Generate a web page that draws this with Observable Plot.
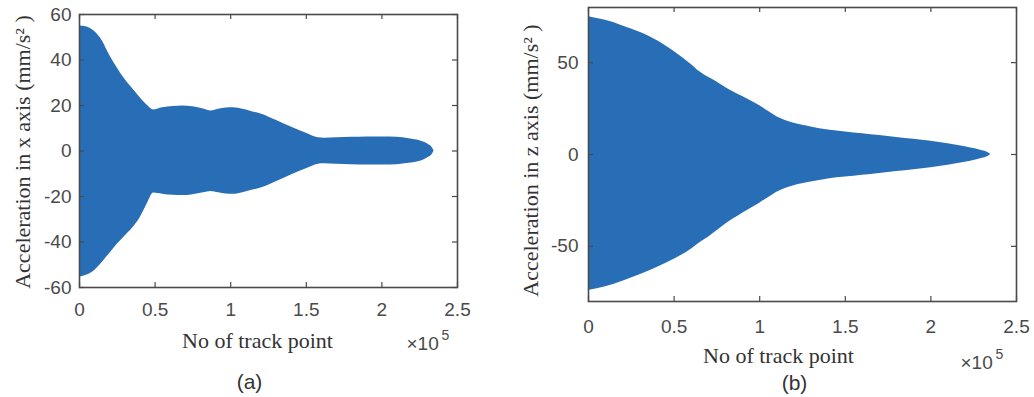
<!DOCTYPE html>
<html><head><meta charset="utf-8">
<script src="https://cdn.jsdelivr.net/npm/d3@7"></script>
<script src="https://cdn.jsdelivr.net/npm/@observablehq/plot@0.6"></script>
<style>
body{margin:0;background:#fff;}
#wrap{position:relative;width:1034px;height:397px;overflow:hidden;background:#fff;}
#a,#b{position:absolute;top:0;}
#a{left:0;} #b{left:500px;}
</style></head><body><div id="wrap"><div id="a"></div><div id="b"></div></div>
<script>
// ---- data (x in units of 1e5 track points) ----
const xTicks = [0, 0.5, 1, 1.5, 2, 2.5];
const xTickLabels = ["0", "0.5", "1", "1.5", "2", "2.5"];
const yTicksA = [-60, -40, -20, 0, 20, 40, 60];
const yTicksB = [-50, 0, 50];
const xLabel = "No of track point";
const yLabelA = "Acceleration in x axis (mm/s\u00B2 )";
const yLabelB = "Acceleration in z axis (mm/s\u00B2 )";
const captionA = "(a)";
const captionB = "(b)";
const scaleText = "\u00D710";
const scaleExp = "5";

const trackA = [0,0.05,0.1,0.15,0.2,0.25,0.3,0.35,0.4,0.45,0.49,0.55,0.62,0.68,0.75,0.82,0.87,0.92,0.97,1.02,1.08,1.14,1.2,1.3,1.4,1.5,1.58,1.62,1.7,1.8,1.9,2.0,2.1,2.18,2.24,2.28,2.31,2.33,2.345];
const upperA = [55,54.5,52.5,48.5,42,36.5,31.5,27.5,23.5,20,18,19,19.6,19.8,19.4,18.5,17.6,18.3,18.9,19,18.3,17.3,16.3,13.5,10.5,7.8,5.8,5.6,5.8,6.0,6.2,6.2,6.0,5.4,4.7,3.8,2.8,1.8,0];
const lowerA = [-55.5,-54.5,-52.5,-49,-45,-41,-37.5,-34,-29.5,-23,-18.5,-19,-19.5,-19.6,-19.2,-18.4,-17.8,-18.4,-18.9,-19,-18.3,-17.3,-16.3,-13.5,-10.5,-7.8,-5.8,-5.6,-5.8,-6.0,-6.2,-6.2,-6.0,-5.4,-4.7,-3.8,-2.8,-1.8,0];

const trackB = [0,0.1,0.2,0.3,0.4,0.5,0.6,0.65,0.7,0.75,0.8,0.9,1.0,1.05,1.1,1.15,1.2,1.3,1.4,1.5,1.6,1.7,1.8,1.9,2.0,2.1,2.2,2.25,2.3,2.33,2.35];
const upperB = [75,73,70,66.5,62,56,49,45,42,39.5,36.5,31.5,26.5,23.5,20.5,18.5,17,15,13.3,12.3,11.3,10.3,9.3,8.3,7.2,5.8,4.2,3.2,2,1.2,0];
const lowerB = [-74,-72,-69,-65.5,-61.5,-57,-51.5,-48,-45,-41.5,-38,-32,-26.5,-23.5,-20.5,-18.5,-17,-15,-13.3,-12.3,-11.3,-10.3,-9.3,-8.3,-7.2,-5.8,-4.2,-3.2,-2,-1.2,0];

// ---- styling ----
const BLUE = "#286eb6";
const FRAME = "#4a4a4a";
const TICKTXT = "#4a4a4a";
const LABELTXT = "#333333";
const SANS = "Liberation Sans, Arial, sans-serif";
const SERIF = "Liberation Serif, Times New Roman, serif";

function panel(c) {
  const rows = c.xs.map((x, i) => ({x, hi: c.up[i], lo: c.lo[i]}));
  const innerW = c.width - c.ml - c.mr;
  const innerH = c.height - c.mt - c.mb;
  const T = 5;
  const txt = {text: d => d, textAnchor: "middle", lineAnchor: "middle"};
  return Plot.plot({
    width: c.width, height: c.height,
    marginLeft: c.ml, marginRight: c.mr, marginTop: c.mt, marginBottom: c.mb,
    x: {domain: [0, 2.5]},
    y: {domain: c.yDomain},
    style: {fontFamily: SANS, fontSize: "19px", background: "white", overflow: "visible"},
    marks: [
      Plot.areaY(rows, {x: "x", y1: "lo", y2: "hi", fill: BLUE, curve: "monotone-x"}),
      Plot.frame({stroke: FRAME, strokeWidth: 1.6}),
      Plot.tickX(xTicks, {x: d => d, insetTop: innerH - T, stroke: FRAME, strokeWidth: 1.2}),
      Plot.tickX(xTicks, {x: d => d, insetBottom: innerH - T, stroke: FRAME, strokeWidth: 1.2}),
      Plot.tickY(c.yTicks, {y: d => d, insetRight: innerW - T, stroke: FRAME, strokeWidth: 1.2}),
      Plot.tickY(c.yTicks, {y: d => d, insetLeft: innerW - T, stroke: FRAME, strokeWidth: 1.2}),
      Plot.axisX(xTicks, {tickSize: 0, tickPadding: c.xPad, tickFormat: d => xTickLabels[xTicks.indexOf(d)], color: TICKTXT, label: null, fontSize: 19}),
      Plot.axisY(c.yTicks, {tickSize: 0, tickPadding: c.yPad, tickFormat: d => String(d), color: TICKTXT, label: null, fontSize: 19}),
      Plot.text([c.yLabel], {...txt, frameAnchor: "left", rotate: -90, dx: c.yLabDx, dy: c.yLabDy, fontFamily: SERIF, fontSize: 22, fill: LABELTXT}),
      Plot.text([xLabel], {...txt, frameAnchor: "bottom", dx: c.xLabDx, dy: c.xLabDy, fontFamily: SERIF, fontSize: 22, fill: LABELTXT}),
      Plot.text([scaleText], {...txt, frameAnchor: "bottom-right", textAnchor: "start", dx: c.sDx, dy: c.sDy, fontSize: 19, fill: TICKTXT}),
      Plot.text([scaleExp], {...txt, frameAnchor: "bottom-right", textAnchor: "start", dx: c.sDx + 35, dy: c.sDy - 8, fontSize: 14, fill: TICKTXT}),
      Plot.text([c.caption], {...txt, frameAnchor: "bottom", dx: c.capDx, dy: c.capDy, fontSize: 21, fill: LABELTXT})
    ]
  });
}

document.getElementById("a").append(panel({
  width: 500, height: 397, ml: 79, mr: 43, mt: 14, mb: 110,
  yDomain: [-60, 60], yTicks: yTicksA, xs: trackA, up: upperA, lo: lowerA,
  xPad: 15, yPad: 8, yLabel: yLabelA, yLabDx: -57, yLabDy: 1,
  xLabDx: -11, xLabDy: 53, sDx: -51, sDy: 56, caption: captionA, capDx: -19, capDy: 95
}));

document.getElementById("b").append(panel({
  width: 534, height: 397, ml: 88, mr: 18, mt: 7, mb: 96,
  yDomain: [-80, 80], yTicks: yTicksB, xs: trackB, up: upperB, lo: lowerB,
  xPad: 18, yPad: 10, yLabel: yLabelB, yLabDx: -58, yLabDy: 6,
  xLabDx: -24, xLabDy: 54, sDx: -56, sDy: 61, caption: captionB, capDx: -8, capDy: 82
}));
</script>
</body></html>
